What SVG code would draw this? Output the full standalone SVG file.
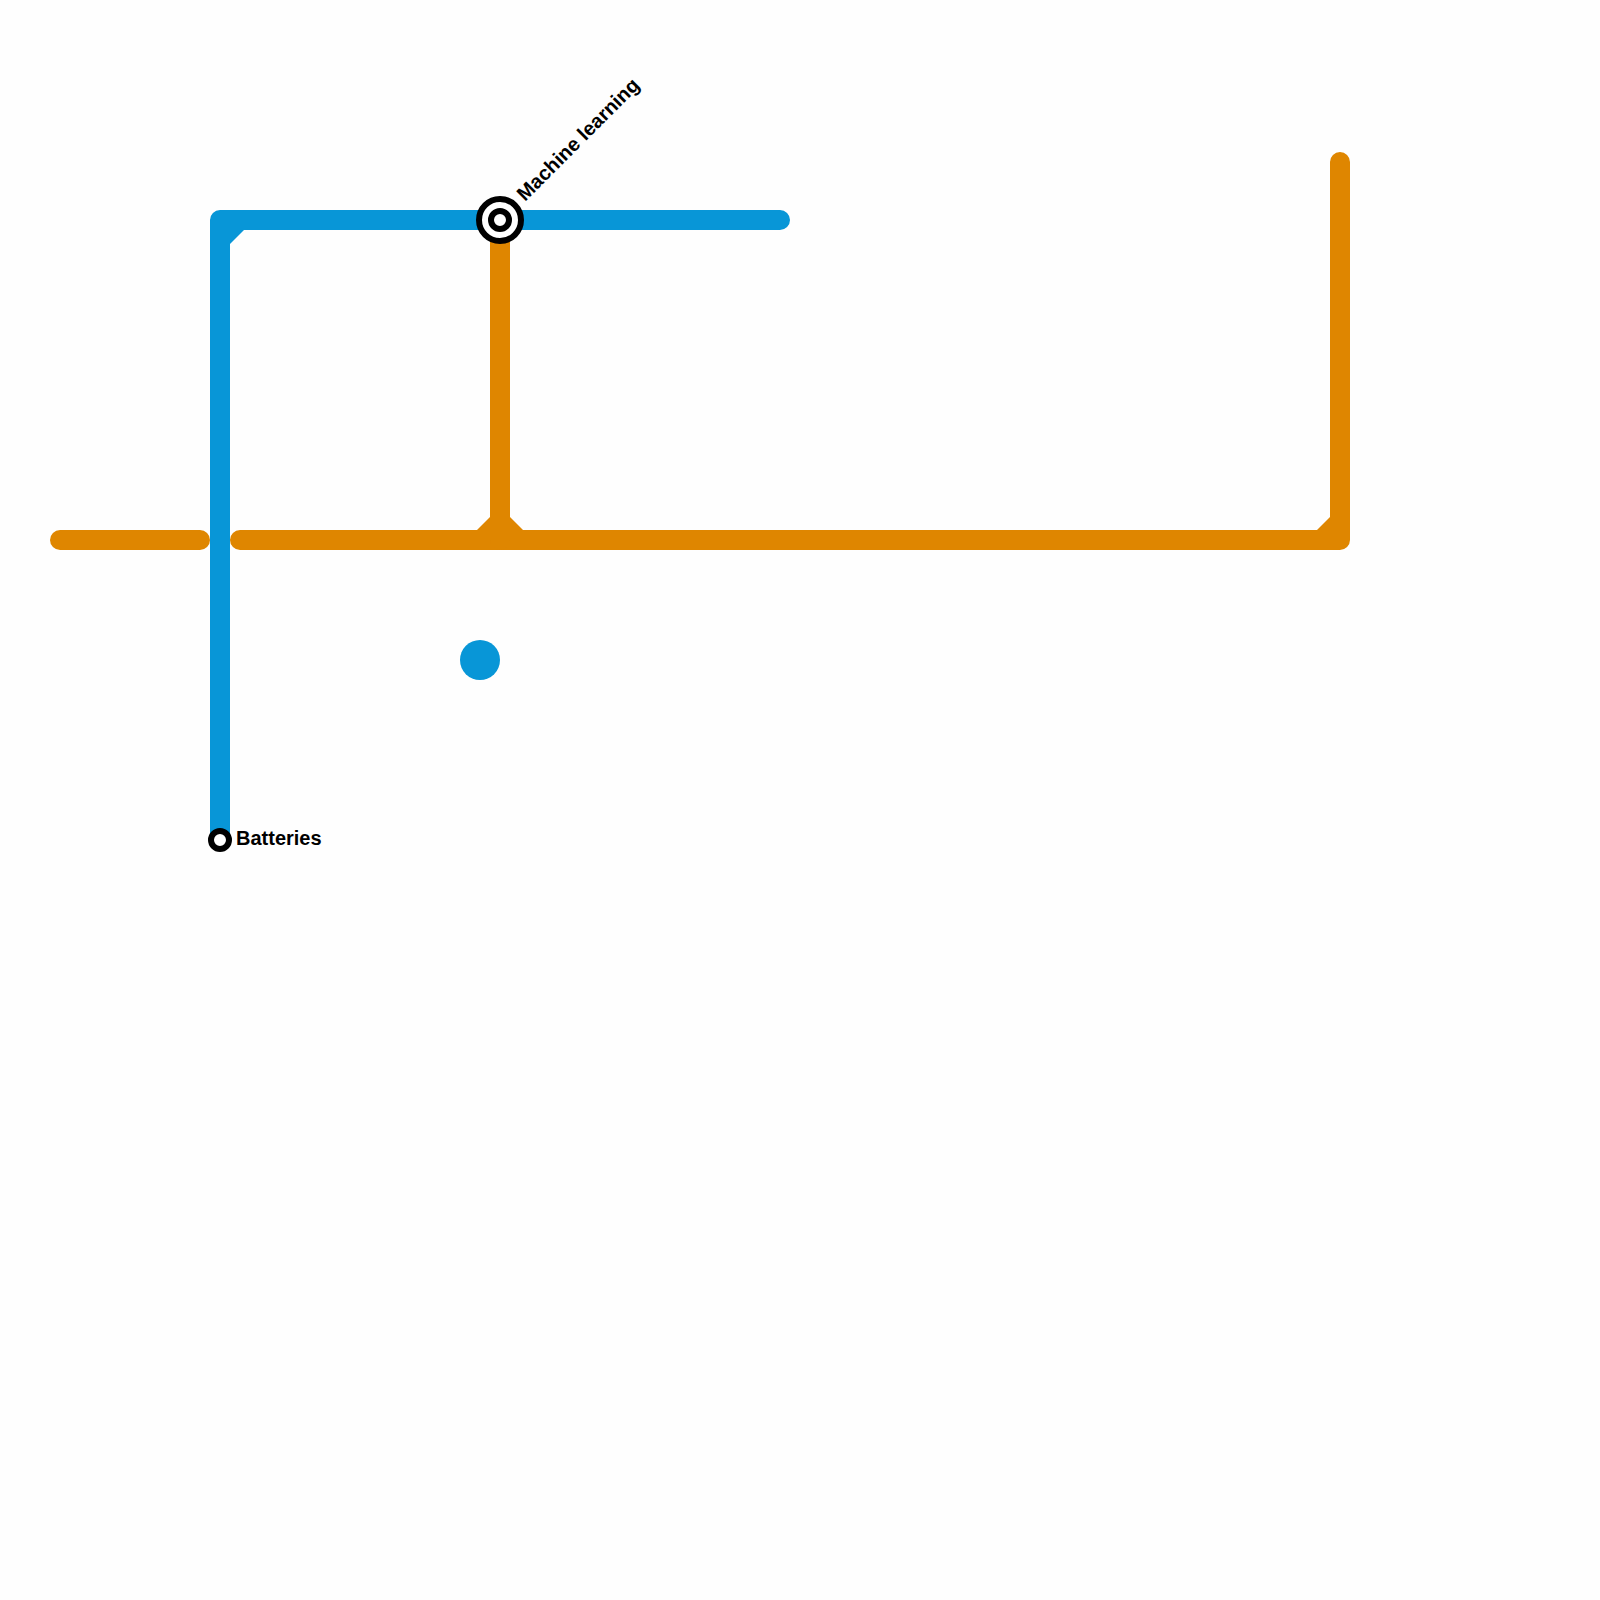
<svg xmlns="http://www.w3.org/2000/svg" width="1600" height="1600" viewBox="0 0 1600 1600">
<style>
.line{fill:none;stroke-width:20;stroke-linecap:round;stroke-linejoin:round}
.orange{stroke:#df8600}
.blue{stroke:#0896d7}
.fo{fill:#df8600}
.fb{fill:#0896d7}
.ring{fill:#fff;stroke:#000;stroke-width:6}
text{font-family:"Liberation Sans",Arial,sans-serif;font-weight:700;font-size:20px;fill:#000}
</style>
<rect width="1600" height="1600" fill="#fefefe"/>
<g id="connectors">
<path class="line orange" d="M60 540H200"/>
<path class="line orange" d="M240 540H1340V162"/>
<path class="line orange" d="M500 220V540"/>
<path class="fo" d="M476 531L490 517H510L524 531V540H476Z"/>
<path class="fo" d="M1316 531L1330 517H1340V540H1316Z"/>
<path class="line blue" d="M220 840V220H780"/>
<path class="fb" d="M230 230H244L230 244Z"/>
</g>
<g id="node-dot"><circle class="fb" cx="480" cy="660" r="20"/></g>
<g id="station-machine-learning">
<circle class="ring" cx="500" cy="220" r="21"/>
<circle class="ring" cx="500" cy="220" r="9"/>
<text transform="translate(525,202) rotate(-45)">Machine learning</text>
</g>
<g id="station-batteries">
<circle class="ring" cx="220" cy="840" r="9"/>
<text x="236" y="845">Batteries</text>
</g>
</svg>
